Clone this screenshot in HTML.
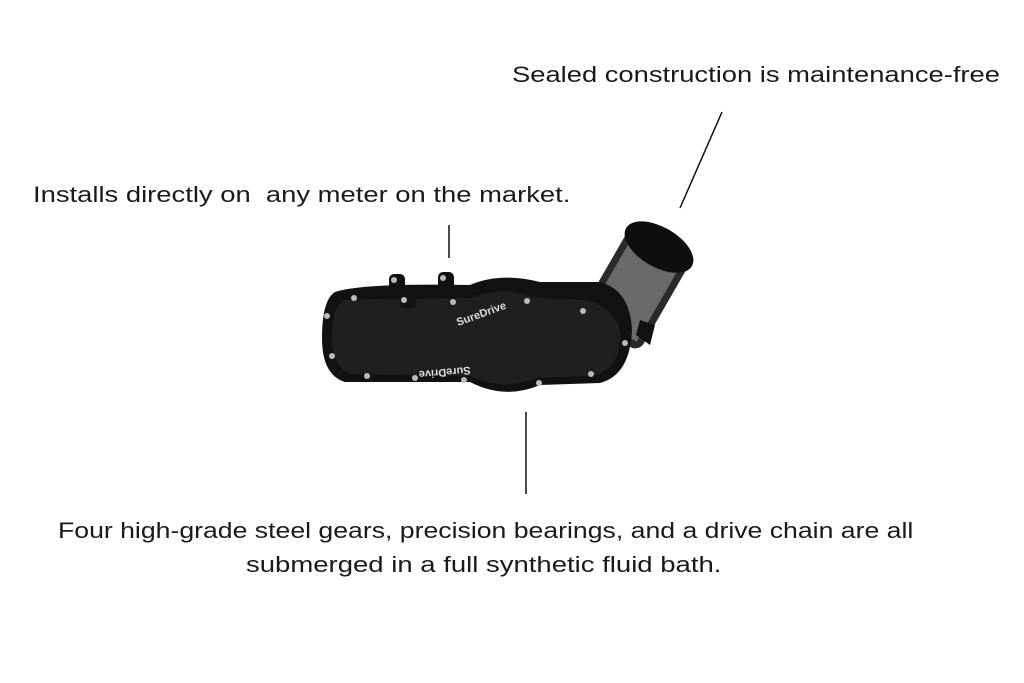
<!DOCTYPE html>
<html><head><meta charset="utf-8"><style>
body{margin:0;width:1024px;height:683px;background:#fff;position:relative;overflow:hidden;font-family:"Liberation Sans",sans-serif;color:#1a1a1a}
.t{position:absolute;font-size:22px;white-space:nowrap;transform-origin:0 0}
</style></head><body>
<div class="t" style="left:512px;top:62px;transform:scaleX(1.243)">Sealed construction is maintenance-free</div>
<div class="t" style="left:33px;top:182px;transform:scaleX(1.245)">Installs directly on&nbsp; any meter on the market.</div>
<div class="t" style="left:58px;top:518px;transform:scaleX(1.21)">Four high-grade steel gears, precision bearings, and a drive chain are all</div>
<div class="t" style="left:246px;top:552px;transform:scaleX(1.25)">submerged in a full synthetic fluid bath.</div>
<svg width="1024" height="683" style="position:absolute;left:0;top:0">
<line x1="722" y1="112" x2="680" y2="208" stroke="#111" stroke-width="1.5"/>
<line x1="449" y1="225" x2="449" y2="258" stroke="#111" stroke-width="1.5"/>
<line x1="526" y1="412" x2="526" y2="494" stroke="#111" stroke-width="1.5"/>
<g transform="rotate(30 640 280)">
<rect x="605" y="238" width="70" height="105" rx="10" fill="#2a2a2a"/>
<rect x="612" y="250" width="56" height="85" fill="#6a6a6a"/>
<ellipse cx="640" cy="242" rx="38" ry="20" fill="#0e0e0e"/>
</g>
<path d="M640 320 L655 325 L650 345 L636 335Z" fill="#111"/>
<path d="M335 292 Q360 283 470 285 Q500 272 540 282 L600 282 Q630 290 632 330 Q630 375 600 383 L540 385 Q505 400 470 382 L345 382 Q322 375 322 338 Q322 300 335 292Z" fill="#111"/>
<path d="M345 300 L470 298 Q505 285 535 298 L585 300 Q622 310 620 340 Q618 372 590 376 L535 378 Q505 392 470 376 L350 374 Q330 365 332 335 Q332 305 345 300Z" fill="#1f1f1f"/>
<g fill="#111">
<rect x="389" y="274" width="16" height="22" rx="5"/><rect x="438" y="272" width="16" height="22" rx="5"/>
<rect x="400" y="290" width="16" height="18" rx="5"/>
</g>
<g fill="#bbb">
<circle cx="394" cy="280" r="3"/><circle cx="443" cy="278" r="3"/>
<circle cx="354" cy="298" r="3"/><circle cx="404" cy="300" r="3"/><circle cx="453" cy="302" r="3"/>
<circle cx="327" cy="316" r="3"/><circle cx="332" cy="356" r="3"/>
<circle cx="367" cy="376" r="3"/><circle cx="415" cy="378" r="3"/><circle cx="464" cy="380" r="3"/>
<circle cx="539" cy="383" r="3"/><circle cx="591" cy="374" r="3"/>
<circle cx="527" cy="301" r="3"/><circle cx="583" cy="311" r="3"/><circle cx="625" cy="343" r="3"/>
</g>
<text x="458" y="326" fill="#ddd" font-size="11" font-weight="bold" transform="rotate(-20 458 326)" font-family="Liberation Sans">SureDrive</text>
<text x="530" y="360" fill="#ddd" font-size="11" font-weight="bold" transform="rotate(175 500 362)" font-family="Liberation Sans">SureDrive</text>
</svg>
</body></html>
